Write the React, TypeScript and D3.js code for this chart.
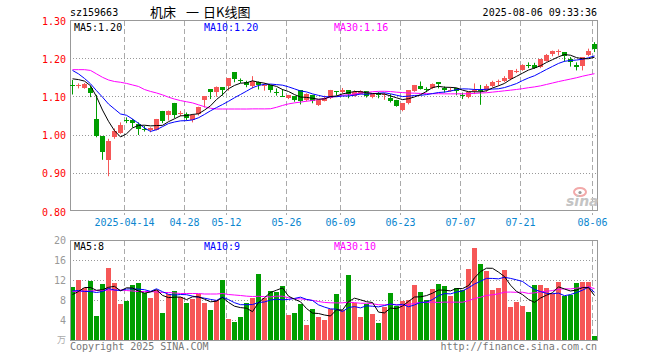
import React, { useEffect, useRef } from "react";
import * as d3 from "d3";

// daily candles 2025-03-31 .. 2025-08-06
const open = [1.131, 1.127, 1.122, 1.122, 1.041, 0.996, 0.932, 0.993, 1.006, 1.038,
  1.039, 1.027, 1.014, 1.011, 1.013, 1.062, 1.052, 1.083, 1.054, 1.054,
  1.039, 1.053, 1.090, 1.119, 1.111, 1.124, 1.126, 1.163, 1.142, 1.139,
  1.128, 1.137, 1.130, 1.130, 1.112, 1.101, 1.096, 1.101, 1.116, 1.089,
  1.104, 1.078, 1.089, 1.097, 1.113, 1.111, 1.116, 1.102, 1.107, 1.113,
  1.099, 1.108, 1.105, 1.097, 1.091, 1.064, 1.081, 1.115, 1.126, 1.119,
  1.123, 1.137, 1.123, 1.116, 1.121, 1.104, 1.098, 1.116, 1.117, 1.115,
  1.128, 1.139, 1.140, 1.144, 1.165, 1.169, 1.182, 1.182, 1.176, 1.193,
  1.209, 1.217, 1.216, 1.198, 1.182, 1.179, 1.207, 1.237];
const high = [1.143, 1.134, 1.135, 1.128, 1.104, 0.996, 0.989, 1.016, 1.032, 1.045,
  1.041, 1.032, 1.023, 1.019, 1.041, 1.062, 1.063, 1.083, 1.062, 1.058,
  1.054, 1.073, 1.100, 1.119, 1.126, 1.124, 1.148, 1.163, 1.147, 1.141,
  1.153, 1.139, 1.135, 1.130, 1.121, 1.119, 1.104, 1.101, 1.116, 1.108,
  1.104, 1.091, 1.102, 1.117, 1.114, 1.122, 1.116, 1.116, 1.116, 1.113,
  1.106, 1.111, 1.109, 1.106, 1.091, 1.082, 1.116, 1.130, 1.139, 1.124,
  1.134, 1.137, 1.126, 1.124, 1.121, 1.110, 1.112, 1.134, 1.130, 1.132,
  1.141, 1.144, 1.153, 1.168, 1.172, 1.184, 1.189, 1.188, 1.198, 1.211,
  1.220, 1.223, 1.216, 1.203, 1.189, 1.203, 1.225, 1.242];
const low = [1.105, 1.121, 1.120, 1.098, 0.993, 0.934, 0.891, 0.989, 1.002, 1.030,
  1.019, 0.999, 1.008, 1.006, 1.011, 1.030, 1.037, 1.043, 1.048, 1.037,
  1.032, 1.050, 1.071, 1.093, 1.099, 1.102, 1.115, 1.137, 1.135, 1.124,
  1.121, 1.118, 1.115, 1.110, 1.102, 1.099, 1.093, 1.086, 1.079, 1.087,
  1.082, 1.075, 1.087, 1.093, 1.102, 1.108, 1.095, 1.100, 1.105, 1.097,
  1.095, 1.095, 1.091, 1.084, 1.073, 1.061, 1.079, 1.112, 1.118, 1.111,
  1.119, 1.121, 1.110, 1.112, 1.103, 1.093, 1.095, 1.106, 1.078, 1.112,
  1.124, 1.128, 1.137, 1.142, 1.161, 1.167, 1.174, 1.172, 1.174, 1.191,
  1.205, 1.207, 1.191, 1.178, 1.168, 1.168, 1.205, 1.216];
const close = [1.130, 1.129, 1.133, 1.108, 0.996, 0.955, 0.982, 1.010, 1.026, 1.037,
  1.032, 1.015, 1.013, 1.017, 1.041, 1.035, 1.063, 1.051, 1.056, 1.043,
  1.051, 1.071, 1.100, 1.112, 1.125, 1.115, 1.148, 1.144, 1.141, 1.130,
  1.141, 1.130, 1.131, 1.118, 1.111, 1.100, 1.104, 1.091, 1.086, 1.106,
  1.089, 1.091, 1.096, 1.117, 1.112, 1.117, 1.106, 1.112, 1.115, 1.099,
  1.106, 1.104, 1.107, 1.090, 1.075, 1.082, 1.116, 1.130, 1.119, 1.118,
  1.133, 1.132, 1.118, 1.117, 1.112, 1.103, 1.112, 1.117, 1.116, 1.126,
  1.139, 1.140, 1.149, 1.168, 1.166, 1.181, 1.181, 1.175, 1.198, 1.209,
  1.218, 1.218, 1.205, 1.189, 1.178, 1.203, 1.218, 1.225];
// volume in 万
const volume = [10.6, 12.0, 10.5, 11.8, 4.8, 11.2, 14.4, 11.5, 7.3, 7.8,
  11.0, 11.4, 9.4, 8.4, 10.0, 5.4, 9.2, 9.8, 8.6, 7.4,
  8.2, 9.2, 7.4, 6.0, 8.0, 12.0, 4.2, 3.6, 4.6, 7.4,
  8.5, 13.3, 8.5, 9.8, 9.7, 10.8, 5.0, 5.5, 7.2, 3.0,
  6.2, 4.6, 4.0, 6.2, 9.2, 6.0, 13.0, 7.4, 4.6, 7.3,
  5.2, 3.4, 6.6, 9.4, 6.8, 7.8, 8.0, 11.0, 9.6, 8.0,
  10.2, 11.2, 10.8, 8.9, 10.4, 10.1, 14.2, 18.5, 15.2, 13.8,
  10.0, 10.4, 14.0, 6.6, 7.6, 6.8, 5.6, 11.0, 11.0, 10.4,
  9.2, 11.6, 8.8, 9.0, 11.4, 11.6, 11.6, 0.8];

// first values of the averages, whose windows start before the chart
const ma5Head = [1.146, 1.144, 1.140, 1.128];
const ma10Head = [1.168, 1.159, 1.147, 1.133, 1.115, 1.098, 1.080, 1.067, 1.054];
const ma30Head = [1.170, 1.170, 1.170, 1.168, 1.159, 1.150, 1.143, 1.139, 1.137, 1.134,
  1.130, 1.126, 1.118, 1.113, 1.109, 1.104, 1.098, 1.093, 1.089, 1.086,
  1.083, 1.078, 1.073, 1.069, 1.067, 1.067, 1.067, 1.067, 1.067];
const volMa5Head = [9.1, 9.7, 10.5, 10.5];
const volMa10Head = [9.8, 9.9, 9.7, 9.7, 9.5, 9.7, 10.3, 10.0, 9.9];
const volMa30Head = [9.7, 9.7, 9.8, 9.8, 9.9, 9.9, 10.0, 10.0, 10.0, 9.9,
  9.8, 9.7, 9.7, 9.7, 9.6, 9.5, 9.5, 9.4, 9.3, 9.3,
  9.3, 9.3, 9.2, 9.2, 9.2, 9.3, 9.1, 9.0, 8.9];

const priceTicks = [1.3, 1.2, 1.1, 1.0, 0.9, 0.8];
const volTicks = [20, 16, 12, 8, 4];
const dateTickIdx = [9, 19, 26, 36, 45, 55, 65, 75, 87];
const dateTickLabels = ["2025-04-14", "04-28", "05-12", "05-26", "06-09", "06-23", "07-07", "07-21", "08-06"];
const priceMaLabels = ["MA5:1.20", "MA10:1.20", "MA30:1.16"];
const volMaLabels = ["MA5:8", "MA10:9", "MA30:10"];
const titleParts = ["机床", "一", "日K线图"];

const RED = "#f65757";
const GREEN = "#009e00";
const MONO = "'DejaVu Sans Mono', monospace";

function movingAvg(vals: number[], n: number, head: number[]) {
  return vals.map((v, i) => (i < n - 1 ? head[i] : d3.mean(vals.slice(i - n + 1, i + 1)) as number));
}

export default function App() {
  const ref = useRef<SVGSVGElement>(null);

  useEffect(() => {
    document.body.style.margin = "0";
    const svg = d3.select(ref.current);
    svg.selectAll("*").remove();

    const left = 70, right = 597;
    const idx = d3.range(close.length);
    const x = d3.scaleBand<number>().domain(idx).range([70, 70 + 6 * idx.length]).padding(0);
    const cx = (i: number) => (x(i) as number) + 2.5;
    const yP = d3.scaleLinear().domain([0.8, 1.3]).range([211, 20]);
    const yV = d3.scaleLinear().domain([0, 20]).range([340, 240]);
    const px = (v: number) => Math.round(v) + 0.5;

    // ---- price panel grid
    const g = svg.append("g");
    g.selectAll(".hgrid").data(priceTicks.slice(1, -1)).join("line")
      .attr("x1", left).attr("x2", right)
      .attr("y1", (d) => px(yP(d))).attr("y2", (d) => px(yP(d)))
      .attr("stroke", "#999").attr("stroke-dasharray", "1,2");
    g.selectAll(".vgrid").data(dateTickIdx).join("line")
      .attr("x1", (d) => (x(d) as number) + 0.5).attr("x2", (d) => (x(d) as number) + 0.5)
      .attr("y1", 21).attr("y2", 215)
      .attr("stroke", "#aaa").attr("stroke-dasharray", "5,3");
    g.append("rect").attr("x", left + 0.5).attr("y", 20.5).attr("width", right - left).attr("height", 190)
      .attr("fill", "none").attr("stroke", "#999");

    g.selectAll(".plabel").data(priceTicks).join("text")
      .attr("x", 66).attr("y", (d) => yP(d) + 4.5).attr("text-anchor", "end")
      .attr("fill", "#f00").attr("font-size", 10).attr("font-family", MONO)
      .text((d) => d.toFixed(2));
    g.selectAll(".dlabel").data(dateTickIdx).join("text")
      .attr("x", (d) => (x(d) as number) + 0.5).attr("y", 226).attr("text-anchor", "middle")
      .attr("fill", "#0b86cf").attr("font-size", 10).attr("font-family", MONO)
      .text((d, i) => dateTickLabels[i]);

    // sina watermark
    const wm = g.append("g");
    wm.append("ellipse").attr("cx", 580).attr("cy", 192).attr("rx", 6).attr("ry", 4)
      .attr("fill", "none").attr("stroke", "#f2a9a9").attr("stroke-width", 2);
    wm.append("circle").attr("cx", 580).attr("cy", 192.5).attr("r", 1.6).attr("fill", "#999");
    wm.append("text").attr("x", 566).attr("y", 206).attr("font-size", 14).attr("font-weight", "bold")
      .attr("font-style", "italic").attr("font-family", "'DejaVu Sans', sans-serif").attr("fill", "#c4c4c4").text("sina");

    // ---- candles
    const up = (i: number) => close[i] > open[i];
    const cg = svg.append("g");
    cg.selectAll(".wick").data(idx).join("line")
      .attr("x1", cx).attr("x2", cx)
      .attr("y1", (i) => yP(high[i])).attr("y2", (i) => yP(low[i]))
      .attr("stroke", (i) => (up(i) ? RED : GREEN)).attr("stroke-width", 1);
    cg.selectAll(".body").data(idx).join("rect")
      .attr("x", (i) => x(i) as number).attr("width", 5)
      .attr("y", (i) => Math.round(yP(Math.max(open[i], close[i]))))
      .attr("height", (i) => Math.max(1, Math.round(Math.abs(yP(open[i]) - yP(close[i])))))
      .attr("fill", (i) => (up(i) ? RED : GREEN));

    const line = (y: d3.ScaleLinear<number, number>) =>
      d3.line<number>().x((d, i) => cx(i)).y((d) => y(d));
    const priceMas: [number[], string][] = [
      [movingAvg(close, 30, ma30Head), "#f0f"],
      [movingAvg(close, 10, ma10Head), "#00f"],
      [movingAvg(close, 5, ma5Head), "#000"],
    ];
    priceMas.forEach(([vals, col]) => {
      svg.append("path").attr("d", line(yP)(vals)).attr("fill", "none").attr("stroke", col).attr("stroke-width", 1);
    });

    // ---- volume panel
    const vg = svg.append("g");
    vg.selectAll(".hgrid").data(volTicks.slice(1)).join("line")
      .attr("x1", left).attr("x2", right)
      .attr("y1", (d) => px(yV(d))).attr("y2", (d) => px(yV(d)))
      .attr("stroke", "#999").attr("stroke-dasharray", "1,2");
    vg.selectAll(".vgrid").data(dateTickIdx).join("line")
      .attr("x1", (d) => (x(d) as number) + 0.5).attr("x2", (d) => (x(d) as number) + 0.5)
      .attr("y1", 241).attr("y2", 340)
      .attr("stroke", "#aaa").attr("stroke-dasharray", "5,3");
    vg.selectAll(".bar").data(idx).join("rect")
      .attr("x", (i) => x(i) as number).attr("width", 5)
      .attr("y", (i) => Math.round(yV(volume[i])))
      .attr("height", (i) => 340 - Math.round(yV(volume[i])))
      .attr("fill", (i) => (up(i) ? RED : GREEN));
    vg.append("rect").attr("x", left + 0.5).attr("y", 240.5).attr("width", right - left).attr("height", 100)
      .attr("fill", "none").attr("stroke", "#999");
    vg.selectAll(".vlabel").data(volTicks).join("text")
      .attr("x", 66).attr("y", (d) => yV(d) + 4).attr("text-anchor", "end")
      .attr("fill", "#999").attr("font-size", 10).attr("font-family", MONO)
      .text((d) => d);
    vg.append("text").attr("x", 66).attr("y", 343).attr("text-anchor", "end")
      .attr("fill", "#aaa").attr("font-size", 9).attr("font-family", "'Noto Sans CJK SC', sans-serif").text("万");

    const volMas: [number[], string][] = [
      [movingAvg(volume, 30, volMa30Head), "#f0f"],
      [movingAvg(volume, 10, volMa10Head), "#00f"],
      [movingAvg(volume, 5, volMa5Head), "#000"],
    ];
    volMas.forEach(([vals, col]) => {
      svg.append("path").attr("d", line(yV)(vals)).attr("fill", "none").attr("stroke", col).attr("stroke-width", 1);
    });

    // ---- texts
    const maX = [74, 204, 334];
    const maCol = ["#000", "#00f", "#f0f"];
    const t = svg.append("g").attr("font-family", MONO).attr("font-size", 10);
    priceMaLabels.forEach((s, i) => t.append("text").attr("x", maX[i]).attr("y", 30.5).attr("fill", maCol[i]).text(s));
    volMaLabels.forEach((s, i) => t.append("text").attr("x", maX[i]).attr("y", 250).attr("fill", maCol[i]).text(s));
    t.append("text").attr("x", 70).attr("y", 16).attr("fill", "#000").text("sz159663");
    t.append("text").attr("x", 597).attr("y", 16).attr("text-anchor", "end").attr("fill", "#000").text("2025-08-06 09:33:36");
    t.append("text").attr("x", 70).attr("y", 349.5).attr("fill", "#777").text("Copyright 2025 SINA.COM");
    t.append("text").attr("x", 597).attr("y", 349.5).attr("text-anchor", "end").attr("fill", "#777").text("http://finance.sina.com.cn");
    const titleX = [150, 186, 203];
    titleParts.forEach((s, i) => svg.append("text").attr("x", titleX[i]).attr("y", 17).attr("font-size", 13)
      .attr("font-family", "'Noto Sans CJK SC', sans-serif").attr("fill", "#000").text(s));
  }, []);

  return <svg ref={ref} width={660} height={360} style={{ display: "block", background: "#fff" }} />;
}
